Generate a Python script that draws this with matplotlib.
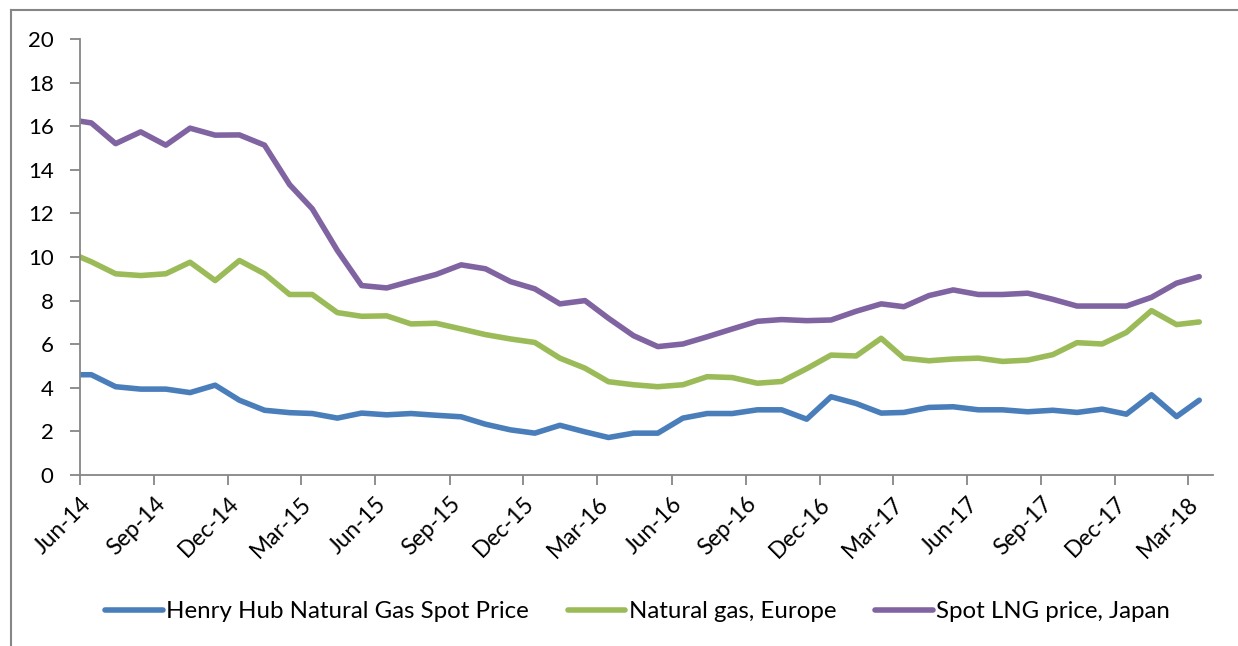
import numpy as np
import pandas as pd
import matplotlib
matplotlib.use("Agg")
import matplotlib.pyplot as plt
import matplotlib.dates as mdates
from matplotlib.lines import Line2D

plt.rcParams['font.family'] = ['Lato', 'DejaVu Sans']

# monthly averages, May-14 .. Mar-18 (plotted mid-month, May-14 is clipped at the axis edge)
months = pd.date_range('2014-05-01', periods=47, freq='MS') + pd.Timedelta(days=14)

henry_hub = [4.60, 4.60, 4.05, 3.94, 3.94, 3.78, 4.12, 3.43, 2.97, 2.86, 2.82, 2.61,
             2.84, 2.76, 2.82, 2.74, 2.67, 2.33, 2.07, 1.92, 2.28, 1.98, 1.72, 1.92,
             1.92, 2.61, 2.82, 2.82, 2.99, 2.99, 2.56, 3.59, 3.28, 2.84, 2.87, 3.10,
             3.13, 2.99, 2.99, 2.90, 2.97, 2.87, 3.02, 2.79, 3.68, 2.68, 3.43]
europe = [10.27, 9.78, 9.23, 9.15, 9.23, 9.76, 8.92, 9.84, 9.23, 8.28, 8.28, 7.45,
          7.28, 7.30, 6.93, 6.96, 6.70, 6.44, 6.24, 6.08, 5.36, 4.90, 4.28, 4.14,
          4.05, 4.14, 4.51, 4.47, 4.21, 4.29, 4.88, 5.50, 5.46, 6.27, 5.36, 5.24,
          5.32, 5.36, 5.21, 5.27, 5.52, 6.07, 6.01, 6.54, 7.54, 6.90, 7.02]
japan = [16.33, 16.15, 15.20, 15.74, 15.13, 15.91, 15.59, 15.60, 15.13, 13.32, 12.21, 10.30,
         8.69, 8.58, 8.89, 9.20, 9.64, 9.46, 8.87, 8.54, 7.85, 8.00, 7.19, 6.39,
         5.89, 6.01, 6.34, 6.70, 7.05, 7.13, 7.08, 7.11, 7.51, 7.85, 7.72, 8.23,
         8.49, 8.28, 8.28, 8.34, 8.06, 7.75, 7.75, 7.75, 8.15, 8.80, 9.10]

labels = ['Henry Hub Natural Gas Spot Price', 'Natural gas, Europe', 'Spot LNG price, Japan']
colors = ['#4A7EBB', '#9BBB59', '#8064A2']

fig = plt.figure(figsize=(12.38, 6.46), dpi=100)
ax = fig.add_axes([80 / 1238, 1 - 475 / 646, (1213 - 80) / 1238, (475 - 39) / 646])

for vals, lab, c in zip([henry_hub, europe, japan], labels, colors):
    ax.plot(months, vals, color=c, lw=4, label=lab,
            solid_joinstyle='round', solid_capstyle='round')

ax.set_xlim(pd.Timestamp('2014-06-01'), pd.Timestamp('2018-04-01'))
ax.set_ylim(0, 20)
ax.set_yticks(np.arange(0, 21, 2))
ax.set_xticks(pd.date_range('2014-06-01', '2018-03-01', freq='3MS'))
ax.xaxis.set_major_formatter(mdates.DateFormatter('%b-%y'))

for s in ['top', 'right']:
    ax.spines[s].set_visible(False)
for s in ['left', 'bottom']:
    ax.spines[s].set_color('#868686')
    ax.spines[s].set_linewidth(1.3)
ax.tick_params(axis='both', colors='#868686', labelcolor='black',
               length=7, width=1.3)
ax.tick_params(axis='y', pad=12, labelsize=16)
ax.tick_params(axis='x', pad=6, labelsize=16.5)
plt.setp(ax.get_xticklabels(), rotation=45, ha='right', rotation_mode='anchor')

fig.legend(loc='center', bbox_to_anchor=(0.515, 1 - 612 / 646), ncol=3, frameon=False,
           fontsize=17.3, handlelength=2.4, handletextpad=0.15, columnspacing=1.6)

# chart area border (only top and left visible in the crop)
fig.add_artist(Line2D([11 / 1238, 11 / 1238], [0, 1 - 10 / 646], transform=fig.transFigure,
                      color='#868686', lw=1.5))
fig.add_artist(Line2D([11 / 1238, 1], [1 - 10 / 646, 1 - 10 / 646], transform=fig.transFigure,
                      color='#868686', lw=1.5))

fig.savefig('out.png', dpi=100)
